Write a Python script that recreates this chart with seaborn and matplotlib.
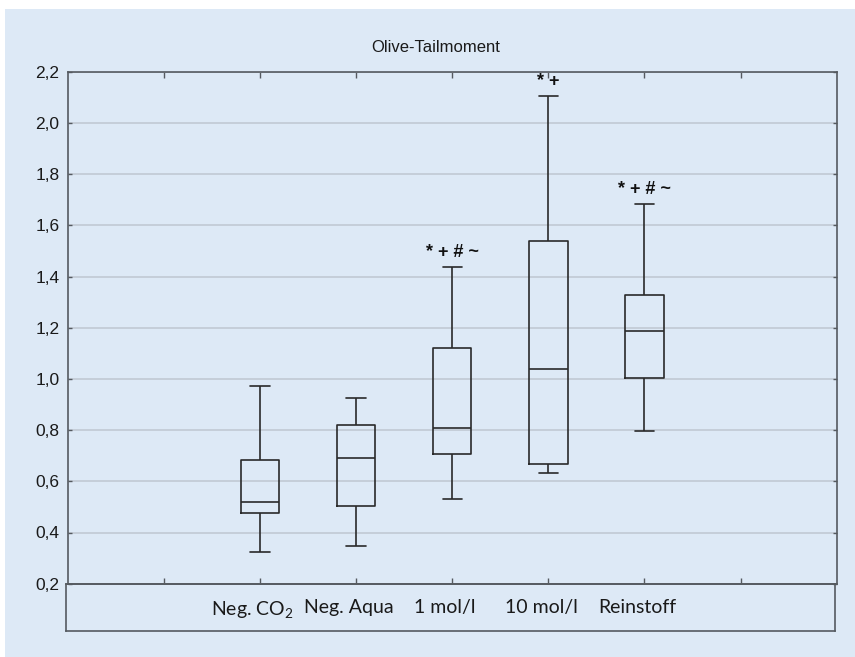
import matplotlib
matplotlib.use("Agg")
import matplotlib.pyplot as plt
import seaborn as sns
import pandas as pd
from matplotlib.patches import Rectangle
from matplotlib.ticker import FuncFormatter, FixedLocator
from matplotlib.transforms import ScaledTranslation

# ---- data ----
categories = ["Neg. CO2", "Neg. Aqua", "1 mol/l", "10 mol/l", "Reinstoff"]
tick_labels = ["Neg. CO$_2$", "Neg. Aqua", "1 mol/l", "10 mol/l", "Reinstoff"]
whisker_low = [0.323, 0.349, 0.530, 0.632, 0.795]
q1 = [0.478, 0.505, 0.705, 0.669, 1.005]
median = [0.518, 0.691, 0.807, 1.040, 1.187]
q3 = [0.683, 0.821, 1.121, 1.539, 1.328]
whisker_high = [0.973, 0.927, 1.437, 2.105, 1.683]
annotations = ["", "", "* + # ~", "* +", "* + # ~"]
y_ticks = [0.2, 0.4, 0.6, 0.8, 1.0, 1.2, 1.4, 1.6, 1.8, 2.0, 2.2]
title = "Olive-Tailmoment"

rows = []
for c, lo, a, m, b, hi in zip(categories, whisker_low, q1, median, q3, whisker_high):
    for v in (lo, a, m, b, hi):
        rows.append({"group": c, "value": v})
df = pd.DataFrame(rows)

BG = "#dde9f6"
LINE = "#2a2a2a"
SPINE = "#555a60"

sns.set_theme(style="white")
plt.rcParams["font.family"] = ["Liberation Sans", "DejaVu Sans"]
plt.rcParams["mathtext.fontset"] = "custom"
plt.rcParams["mathtext.rm"] = "Lato"
plt.rcParams["mathtext.it"] = "Lato"
plt.rcParams["mathtext.default"] = "regular"

fig = plt.figure(figsize=(8.55, 6.57), dpi=100, facecolor="white")
fig.patches.append(Rectangle((5 / 855, 0), 850 / 855, 648 / 657,
                             transform=fig.transFigure, facecolor=BG,
                             edgecolor="none", zorder=-10))

ax = fig.add_axes([67.7 / 855, (657 - 583.7) / 657, 769 / 855, 512 / 657])
ax.set_facecolor("none")

sns.boxplot(data=df, x="group", y="value", order=categories, ax=ax,
            width=0.4, whis=(0, 100), fill=False, color=LINE,
            linewidth=1.2, showfliers=False)

ax.set_xlim(-2, 6)
ax.set_ylim(0.2, 2.2)
ax.set_xlabel("")
ax.set_ylabel("")

# x ticks (inward marks at -1..5, labels under categories)
ax.xaxis.set_major_locator(FixedLocator(list(range(-1, 6))))
ax.set_xticklabels([""] + tick_labels + [""], fontfamily=["Lato", "DejaVu Sans"],
                   fontsize=14, color="#1a1a1a")
ax.tick_params(axis="x", direction="in", length=4, width=1, color=SPINE,
               top=True, bottom=True, pad=11)
shift = ScaledTranslation(-7 / 100, 0, fig.dpi_scale_trans)
for lbl in ax.get_xticklabels():
    lbl.set_transform(lbl.get_transform() + shift)

ax.yaxis.set_major_locator(FixedLocator(y_ticks))
ax.yaxis.set_major_formatter(FuncFormatter(lambda v, p: f"{v:.1f}".replace(".", ",")))
ax.tick_params(axis="y", direction="in", length=3, width=1, color=SPINE,
               left=True, right=True, labelsize=12.5, labelcolor="#1a1a1a", pad=6)

ax.yaxis.grid(True, color="#c3ccd6", linewidth=1.3)
ax.xaxis.grid(False)
ax.set_axisbelow(True)
for s in ax.spines.values():
    s.set_visible(True)
    s.set_color(SPINE)
    s.set_linewidth(1.2)

for i, t in enumerate(annotations):
    if t:
        ax.annotate(t, xy=(i, whisker_high[i]), xytext=(0, 4),
                    textcoords="offset points", ha="center", va="bottom",
                    fontsize=13, fontweight="bold", color="#111111",
                    fontfamily=["Liberation Sans", "DejaVu Sans"])

# label box below the axis
lab = fig.add_axes([65.7 / 855, (657 - 630.7) / 657, 769.6 / 855, 47 / 657])
lab.set_facecolor("none")
lab.set_xticks([])
lab.set_yticks([])
for s in lab.spines.values():
    s.set_visible(True)
    s.set_color(SPINE)
    s.set_linewidth(1.2)

fig.text(436 / 855, (657 - 47) / 657, title, ha="center", va="center",
         fontsize=12, color="#1a1a1a")

fig.savefig("out.png", dpi=100, facecolor="white")
